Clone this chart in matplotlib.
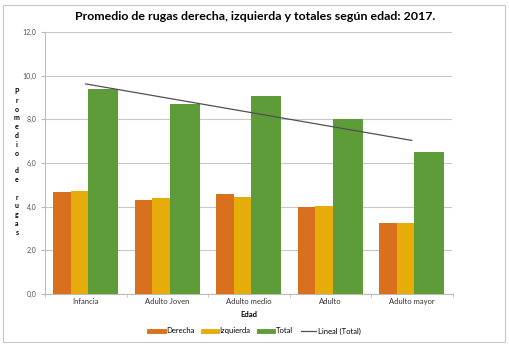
import numpy as np
import matplotlib
matplotlib.use("Agg")
from matplotlib import pyplot as plt
from matplotlib.patches import Rectangle
from matplotlib.lines import Line2D

categorias = ['Infancia', 'Adulto Joven', 'Adulto medio', 'Adulto', 'Adulto mayor']
derecha = [4.67, 4.29, 4.59, 4.00, 3.23]
izquierda = [4.74, 4.38, 4.45, 4.03, 3.23]
total = [9.40, 8.68, 9.05, 8.01, 6.50]
y_ticks = [0, 2, 4, 6, 8, 10, 12]
y_labels = ['0,0', '2,0', '4,0', '6,0', '8,0', '10,0', '12,0']

c_der = '#D9701E'
c_izq = '#E6AC0A'
c_tot = '#5E9C3A'

plt.rcParams['font.family'] = ['Lato', 'DejaVu Sans']

fig = plt.figure(figsize=(5.1, 3.5), dpi=100)
# outer chart border
fig.patches.append(Rectangle((3/510, 1 - 342/350), 502/510, 337/350, transform=fig.transFigure,
                             fill=False, edgecolor='#C8C8C8', linewidth=0.8))

ax = fig.add_axes([45/510, 1 - 294/350, 452.5/510 - 45/510, 262/350])

x = np.arange(len(categorias))
w_small = 0.215
w_big = 0.37
left = x - (2 * w_small + w_big) / 2
ax.bar(left + w_small / 2, derecha, width=w_small, color=c_der, label='Derecha', zorder=3)
ax.bar(left + w_small * 1.5, izquierda, width=w_small, color=c_izq, label='Izquierda', zorder=3)
ax.bar(left + 2 * w_small + w_big / 2, total, width=w_big, color=c_tot, label='Total', zorder=3)

# linear trend of total
m, b = np.polyfit(x + 1, total, 1)
ax.plot(x, m * (x + 1) + b, color='#505050', linewidth=0.9, zorder=4, label='Lineal (Total)')

ax.set_xlim(-0.5, len(categorias) - 0.5)
ax.set_ylim(0, 12)
ax.set_yticks(y_ticks)
ax.set_yticklabels(y_labels, fontsize=5, color='#555555')
ax.set_xticks(x)
ax.set_xticklabels(categorias, fontsize=5.5, color='#333333')
ax.set_xticks(np.arange(len(categorias) + 1) - 0.5, minor=True)
ax.tick_params(axis='x', which='major', length=0, pad=3)
ax.tick_params(axis='x', which='minor', length=2, color='#BBBBBB')
ax.tick_params(axis='y', length=3, color='#BBBBBB', pad=3)
ax.grid(axis='y', color='#C8C8C8', linewidth=0.8, zorder=0)
for s in ['top', 'right']:
    ax.spines[s].set_visible(False)
ax.spines['left'].set_color('#BBBBBB')
ax.spines['bottom'].set_color('#BBBBBB')

ax.set_xlabel('Edad', fontsize=5.5, fontweight='bold', labelpad=4)

fig.text(255.5/510, 1 - 17/350, 'Promedio de rugas derecha, izquierda y totales según edad: 2017.',
         ha='center', va='center', fontsize=8.9, fontweight='bold')

ylab = '\n'.join('Promedio de rugas')
fig.text(17/510, 1 - 162/350, ylab, ha='center', va='center', fontsize=5,
         fontweight='bold', linespacing=1.3)

handles = [Line2D([], [], color=c_der, linewidth=3.5),
           Line2D([], [], color=c_izq, linewidth=3.5),
           Line2D([], [], color=c_tot, linewidth=3.5),
           Line2D([], [], color='#505050', linewidth=0.9)]
fig.legend(handles, ['Derecha', 'Izquierda', 'Total', 'Lineal (Total)'], loc='center',
           bbox_to_anchor=(255/510, 1 - 331/350), ncol=4, frameon=False, fontsize=5.5,
           handlelength=1.9, handletextpad=0.3, columnspacing=1.1)

fig.savefig('out.png', dpi=100)
